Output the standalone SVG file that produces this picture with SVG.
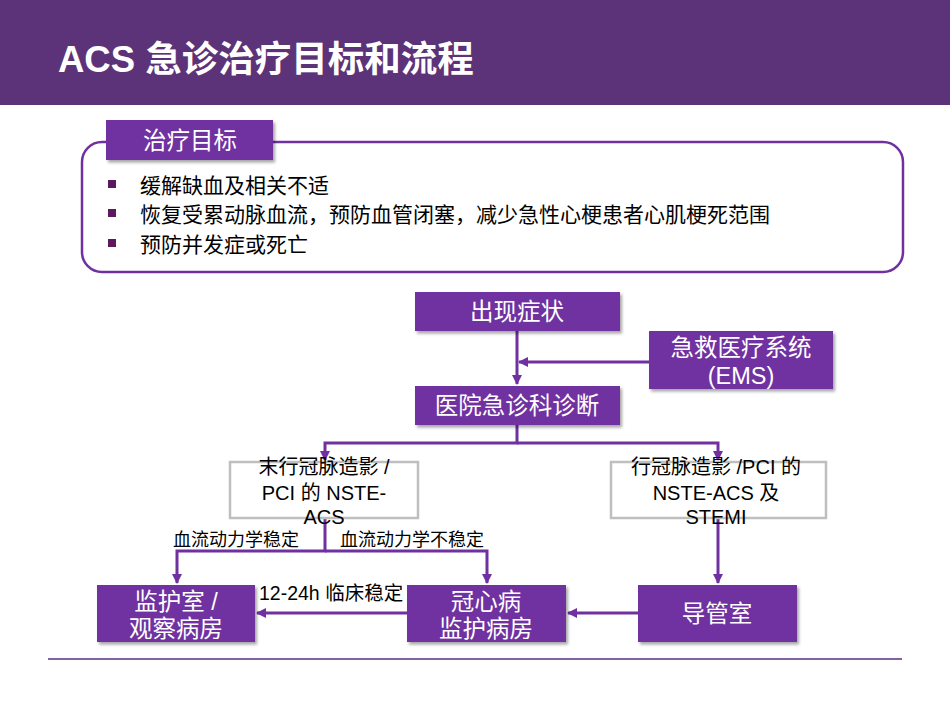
<svg xmlns="http://www.w3.org/2000/svg" width="950" height="713" viewBox="0 0 950 713">
<style>
text{font-family:"Liberation Sans","Noto Sans CJK SC",sans-serif;}
.w{fill:#fff;}
.k{fill:#000;}
.node{fill:#7030A0;}
.gbox{fill:#fff;stroke:#BFBFBF;stroke-width:2.5;}
.c{fill:none;stroke:#7030A0;stroke-width:3;}
.n24{font-size:23.5px;text-anchor:middle;}
.n20{font-size:20px;text-anchor:middle;}
.lab{font-size:18px;}
.lab2{font-size:19.5px;}
.bl{font-size:21px;}
</style>
<defs>
<filter id="sh" x="-10%" y="-10%" width="130%" height="140%">
<feDropShadow dx="2" dy="2.5" stdDeviation="1.5" flood-color="#000" flood-opacity="0.35"/>
</filter>
<marker id="ar" markerUnits="userSpaceOnUse" markerWidth="12" markerHeight="12" refX="9" refY="5" orient="auto">
<path d="M0,0 L10,5 L0,10 Z" fill="#7030A0"/>
</marker>
</defs>
<rect id="bg" x="0" y="0" width="950" height="713" fill="#fff"/>
<g id="header">
<rect x="0" y="0" width="950" height="105" fill="#5C3278"/>
<text x="58" y="72" class="w" font-size="36.5" font-weight="bold">ACS 急诊治疗目标和流程</text>
</g>
<g id="goals">
<rect x="82" y="142" width="821" height="130" rx="20" fill="#fff" stroke="#7030A0" stroke-width="2.5"/>
<rect x="106" y="120" width="167" height="40" class="node" filter="url(#sh)"/>
<text x="190" y="149" class="w n24">治疗目标</text>
<rect x="108" y="180" width="8" height="8" fill="#5C1A5C"/>
<rect x="108" y="209" width="8" height="8" fill="#5C1A5C"/>
<rect x="108" y="239" width="8" height="8" fill="#5C1A5C"/>
<text x="140" y="193" class="k bl">缓解缺血及相关不适</text>
<text x="140" y="222" class="k bl">恢复受累动脉血流，预防血管闭塞，减少急性心梗患者心肌梗死范围</text>
<text x="140" y="252" class="k bl">预防并发症或死亡</text>
</g>
<g id="connectors">
<path class="c" d="M517,331 V384" marker-end="url(#ar)"/>
<path class="c" d="M649,362 H519" marker-end="url(#ar)"/>
<path class="c" d="M517,425 V443 H325 V460" marker-end="url(#ar)"/>
<path class="c" d="M517,443 H718 V460" marker-end="url(#ar)"/>
<path class="c" d="M325,518 V551 H177 V583" marker-end="url(#ar)"/>
<path class="c" d="M325,551 H487 V583" marker-end="url(#ar)"/>
<path class="c" d="M718,518 V583" marker-end="url(#ar)"/>
<path class="c" d="M638,613 H568" marker-end="url(#ar)"/>
<path class="c" d="M407,613 H257" marker-end="url(#ar)"/>
</g>
<g id="n-symptom">
<rect x="415" y="292" width="205" height="39" class="node" filter="url(#sh)"/>
<text x="517" y="320" class="w n24">出现症状</text>
</g>
<g id="n-ems">
<rect x="649" y="331" width="184" height="58" class="node" filter="url(#sh)"/>
<text x="741" y="356" class="w n24">急救医疗系统</text>
<text x="741" y="384" class="w n24">(EMS)</text>
</g>
<g id="n-hospital">
<rect x="415" y="386" width="205" height="39" class="node" filter="url(#sh)"/>
<text x="517" y="414" class="w n24">医院急诊科诊断</text>
</g>
<g id="n-nopci">
<rect x="230" y="462" width="188" height="56" class="gbox"/>
<text x="324" y="474" class="k n20">末行冠脉造影 /</text>
<text x="324" y="500" class="k n20">PCI 的 NSTE-</text>
<text x="324" y="524" class="k n20">ACS</text>
</g>
<g id="n-pci">
<rect x="611" y="462" width="215" height="56" class="gbox"/>
<text x="716" y="474" class="k n20">行冠脉造影 /PCI 的</text>
<text x="716" y="500" class="k n20">NSTE-ACS 及</text>
<text x="716" y="524" class="k n20">STEMI</text>
</g>
<g id="labels">
<text x="173" y="546" class="k lab">血流动力学稳定</text>
<text x="340" y="546" class="k lab">血流动力学不稳定</text>
<text x="259" y="600" class="k lab2">12-24h 临床稳定</text>
</g>
<g id="n-monitor">
<rect x="97" y="585" width="158" height="57" class="node" filter="url(#sh)"/>
<text x="176" y="610" class="w n24">监护室 /</text>
<text x="176" y="637" class="w n24">观察病房</text>
</g>
<g id="n-ccu">
<rect x="407" y="585" width="159" height="57" class="node" filter="url(#sh)"/>
<text x="486" y="610" class="w n24">冠心病</text>
<text x="486" y="637" class="w n24">监护病房</text>
</g>
<g id="n-cath">
<rect x="638" y="585" width="159" height="57" class="node" filter="url(#sh)"/>
<text x="717" y="622" class="w n24">导管室</text>
</g>
<line x1="48" y1="659" x2="902" y2="659" stroke="#8064A2" stroke-width="2"/>
</svg>
